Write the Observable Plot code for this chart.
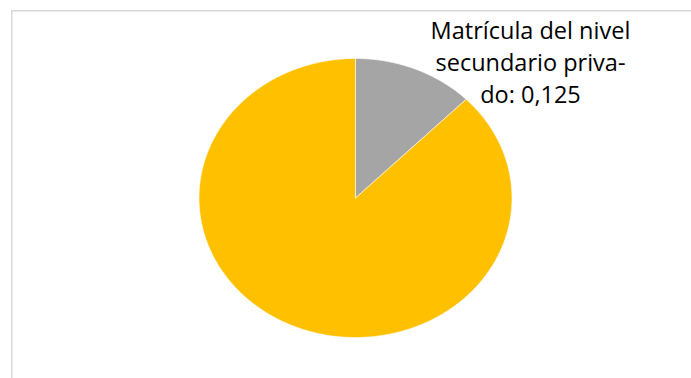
<!DOCTYPE html>
<html>
<head>
<meta charset="utf-8">
<script src="https://cdn.jsdelivr.net/npm/d3@7"></script>
<script src="https://cdn.jsdelivr.net/npm/@observablehq/plot@0.6"></script>
<style>
  html, body { margin: 0; padding: 0; background: #fff; overflow: hidden; }
  #chart { position: relative; width: 691px; height: 378px; }
</style>
</head>
<body>
<div id="chart"></div>
<script>
const categories = ["Matrícula del nivel secundario privado", "Matrícula del nivel secundario público"];
const values = [0.125, 0.875];
const colors = ["#A5A5A5", "#FFC000"];
const labelText = "Matrícula del nivel\nsecundario priva-\ndo: 0,125";

// slice polygons (unit circle, y up, clockwise from 12 o'clock), stretched by x/y scales
const arcs = d3.pie().sort(null).startAngle(0).endAngle(2 * Math.PI)(values);
const pts = [];
arcs.forEach((a, i) => {
  const steps = Math.max(8, Math.ceil((a.endAngle - a.startAngle) / 0.01));
  pts.push({k: categories[i], x: 0, y: 0});
  for (let s = 0; s <= steps; s++) {
    const t = a.startAngle + (a.endAngle - a.startAngle) * s / steps;
    pts.push({k: categories[i], x: Math.sin(t), y: Math.cos(t)});
  }
  pts.push({k: categories[i], x: 0, y: 0});
});

const chart = Plot.plot({
  width: 691,
  height: 378,
  marginLeft: 198.5,
  marginRight: 691 - 511.5,
  marginTop: 58,
  marginBottom: 378 - 337,
  x: {domain: [-1, 1], axis: null},
  y: {domain: [-1, 1], axis: null},
  color: {domain: categories, range: colors},
  style: {fontFamily: "'Open Sans', sans-serif", background: "white", overflow: "visible"},
  marks: [
    Plot.line(pts, {x: "x", y: "y", z: "k", fill: "k", stroke: "white", strokeWidth: 0.6, curve: "linear"}),
    Plot.text([labelText], {
      x: () => 1.118, y: () => 0.985, text: d => d,
      fontSize: 23.5, lineHeight: 1.36, textAnchor: "middle", lineAnchor: "middle",
      fill: "#000", letterSpacing: "0.2px"
    })
  ]
});

d3.select(chart).insert("rect", ":first-child")
  .attr("x", 11.75).attr("y", 10.75).attr("width", 800).attr("height", 500)
  .attr("fill", "none").attr("stroke", "#D9D9D9").attr("stroke-width", 1.5);

document.getElementById("chart").appendChild(chart);
</script>
</body>
</html>
